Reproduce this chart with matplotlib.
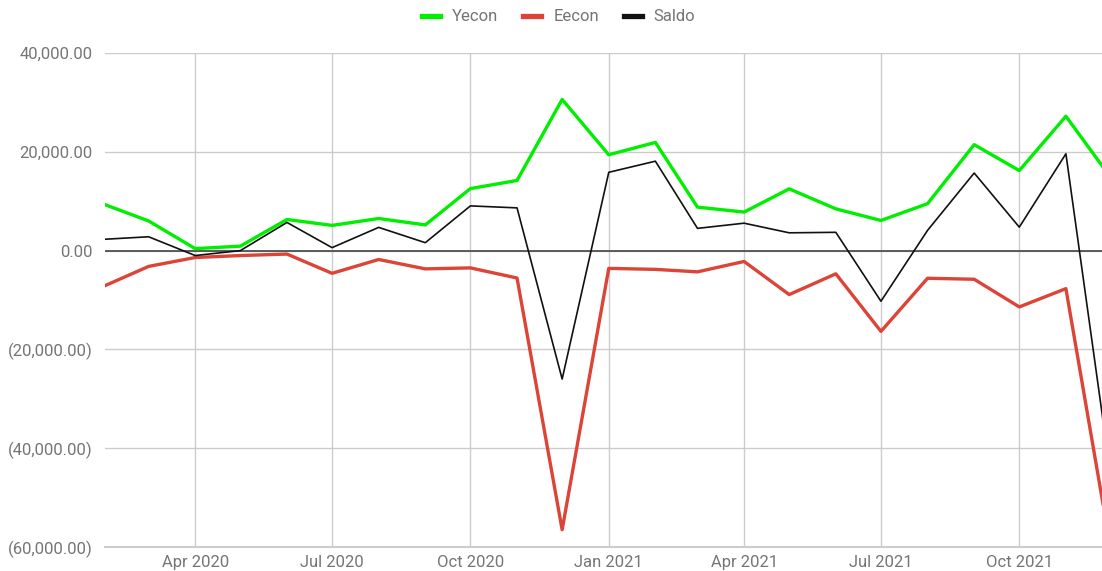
import numpy as np
import pandas as pd
import matplotlib
matplotlib.use("Agg")
import matplotlib.pyplot as plt
import matplotlib.dates as mdates
from matplotlib.ticker import FuncFormatter

# Monatswerte Feb 2020 - Dez 2021
months = pd.date_range("2020-02-01", "2021-12-01", freq="MS")
yecon = [9300, 6000, 400, 900, 6300, 5100, 6500, 5200, 12550, 14200, 30600, 19400,
         21900, 8800, 7800, 12500, 8450, 6100, 9500, 21450, 16200, 27200, 14700]
eecon = [-7100, -3200, -1400, -1000, -700, -4600, -1800, -3700, -3500, -5550, -56500, -3600,
         -3800, -4300, -2200, -8900, -4700, -16350, -5600, -5800, -11400, -7700, -60700]
saldo = [2300, 2800, -1000, 0, 5700, 600, 4700, 1600, 9050, 8650, -26000, 15850,
         18100, 4500, 5550, 3600, 3700, -10250, 4100, 15700, 4750, 19600, -46000]

plt.rcParams["font.family"] = ["Roboto", "DejaVu Sans"]

fig = plt.figure(figsize=(11.02, 5.71), dpi=100)
ax = fig.add_axes([105 / 1102, 1 - 547 / 571, 1 - 105 / 1102, (547 - 53) / 571])

ax.plot(months, yecon, color="#00ee00", linewidth=2.4, label="Yecon", zorder=3)
ax.plot(months, eecon, color="#db4437", linewidth=2.4, label="Eecon", zorder=3)
ax.plot(months, saldo, color="#111111", linewidth=1.2, label="Saldo", zorder=4)
ax.axhline(0, color="#444444", linewidth=1.2, zorder=2)
ax.axhline(-60000, color="#cccccc", linewidth=1.5, zorder=1, clip_on=False)

ax.set_xlim(pd.Timestamp("2020-02-01"), pd.Timestamp("2021-11-25"))
ax.set_ylim(-60000, 40000)
ax.set_yticks(np.arange(-60000, 40001, 20000))


def fmt(v, pos):
    if v < 0:
        return f"({abs(v):,.2f})"
    return f"{v:,.2f}"


ax.yaxis.set_major_formatter(FuncFormatter(fmt))
ax.xaxis.set_major_locator(mdates.MonthLocator(bymonth=[1, 4, 7, 10]))
ax.xaxis.set_major_formatter(mdates.DateFormatter("%b %Y"))

ax.grid(True, color="#cccccc", linewidth=1)
ax.set_axisbelow(True)
for s in ax.spines.values():
    s.set_visible(False)
ax.tick_params(length=0, labelsize=12, colors="#757575", pad=9)
ax.tick_params(axis="x", pad=6)

leg = ax.legend(loc="center", bbox_to_anchor=(0.455, 1.073),
                ncol=3, frameon=False, fontsize=12, handlelength=1.1,
                columnspacing=1.5, handletextpad=0.7)
for h in leg.legend_handles:
    h.set_linewidth(3.8)
for t in leg.get_texts():
    t.set_color("#757575")

plt.savefig("out.png", dpi=100)
